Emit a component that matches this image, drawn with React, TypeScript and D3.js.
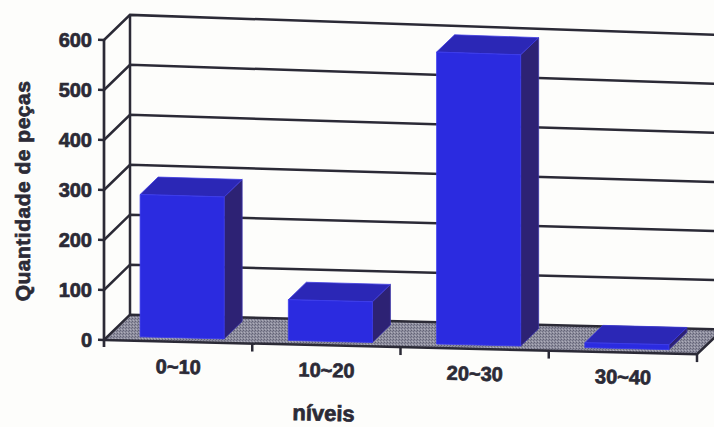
import React from "react";
import * as d3 from "d3";

// Quantity of pieces per level range
const categories = ["0~10", "10~20", "20~30", "30~40"];
const quantities = [285, 82, 590, 10];
const yTicks = [0, 100, 200, 300, 400, 500, 600];
const yTitle = "Quantidade de peças";
const xTitle = "níveis";

const W = 714;
const H = 427;
const X0 = 104; // front-left corner of the plot box
const PW = 593; // width of the floor
const DX = 26; // depth offset of the back wall
const DY = -26;
const BAR_FRONT = 4; // bar depth inside the box
const BAR_BACK = 22;

const INK = "#2b2a36";
const FONT = "'Liberation Sans', Arial, sans-serif";

// slight keystone tilt of the whole page
function project(p: [number, number]): [number, number] {
  const [x, y] = p;
  const k = 0.024 + (0.01 * (340 - y)) / 326;
  return [x, y + (x - X0) * k];
}
function tiltAt(y: number) {
  return (Math.atan(0.024 + (0.01 * (340 - y)) / 326) * 180) / Math.PI;
}

const lineGen = d3.line<[number, number]>();
function poly(pts: [number, number][]) {
  return lineGen(pts.map(project)) + "Z";
}
function seg(pts: [number, number][]) {
  return lineGen(pts.map(project)) as string;
}

const heavy = { stroke: INK, strokeWidth: 0.7, paintOrder: "stroke" as const };

export default function App() {
  const y = d3.scaleLinear().domain([0, 600]).range([340, 40]);
  const x = d3.scaleBand<string>().domain(categories).range([X0, X0 + PW]).padding(0);
  const bw = x.bandwidth();
  const barW = bw * 0.567;
  const y0 = y(0);

  const floor: [number, number][] = [
    [X0, y0],
    [X0 + PW, y0],
    [X0 + PW + DX, y0 + DY],
    [X0 + DX, y0 + DY],
  ];

  const boundaries = d3.range(categories.length + 1).map((i) => X0 + i * bw);

  return (
    <svg
      width={W}
      height={H}
      viewBox={`0 0 ${W} ${H}`}
      style={{ position: "absolute", left: 0, top: 0, background: "#fdfdfb" }}
      fontFamily={FONT}
      fontWeight="bold"
    >
      <defs>
        <pattern id="grain" width="3" height="3" patternUnits="userSpaceOnUse">
          <rect width="3" height="3" fill="#8e8e9e" />
          <rect x="0" y="0" width="1" height="1" fill="#626275" />
          <rect x="2" y="1" width="1" height="1" fill="#6e6e82" />
          <rect x="1" y="2" width="1" height="1" fill="#aeaebb" />
        </pattern>
      </defs>

      {/* floor */}
      <path d={poly(floor)} fill="url(#grain)" />

      {/* back wall grid lines and left wall diagonals */}
      {yTicks.map((v) => (
        <path
          key={"g" + v}
          d={seg([
            [X0, y(v)],
            [X0 + DX, y(v) + DY],
            [X0 + DX + PW + 40, y(v) + DY],
          ])}
          fill="none"
          stroke={INK}
          strokeWidth={2.5}
        />
      ))}
      {/* back wall vertical */}
      <path
        d={seg([
          [X0 + DX, y(0) + DY],
          [X0 + DX, y(600) + DY],
        ])}
        stroke={INK}
        strokeWidth={2.5}
      />
      {/* floor front and right edges */}
      <path
        d={seg([
          [X0, y0],
          [X0 + PW, y0],
          [X0 + PW + DX, y0 + DY],
        ])}
        fill="none"
        stroke={INK}
        strokeWidth={2.5}
      />

      {/* bars */}
      {categories.map((c, i) => {
        const v = quantities[i];
        const xl = (x(c) as number) + (bw - barW) / 2;
        const xr = xl + barW;
        const yt = y(v);
        const f = BAR_FRONT;
        const b = BAR_BACK;
        const front: [number, number][] = [
          [xl + f, yt - f],
          [xr + f, yt - f],
          [xr + f, y0 - f],
          [xl + f, y0 - f],
        ];
        const top: [number, number][] = [
          [xl + f, yt - f],
          [xr + f, yt - f],
          [xr + b, yt - b],
          [xl + b, yt - b],
        ];
        const side: [number, number][] = [
          [xr + f, yt - f],
          [xr + b, yt - b],
          [xr + b, y0 - b],
          [xr + f, y0 - f],
        ];
        return (
          <g key={c}>
            <path d={poly(side)} fill="#2d2274" stroke="#3a33a8" strokeWidth={0.8} />
            <path d={poly(top)} fill="#2b27b6" stroke="#3d3ae0" strokeWidth={0.8} />
            <path d={poly(front)} fill="#2b2be0" stroke="#3c3cee" strokeWidth={0.8} />
          </g>
        );
      })}

      {/* front value axis */}
      <path
        d={seg([
          [X0, y(600)],
          [X0, y0 + 7],
        ])}
        stroke={INK}
        strokeWidth={2.7}
      />
      {yTicks.map((v) => (
        <g key={"t" + v}>
          <path
            d={seg([
              [X0 - 6, y(v)],
              [X0, y(v)],
            ])}
            stroke={INK}
            strokeWidth={2.5}
          />
          <text
            x={project([X0 - 12, y(v)])[0]}
            y={project([X0 - 12, y(v)])[1]}
            dy="0.36em"
            textAnchor="end"
            fontSize={20}
            fill={INK}
            {...heavy}
          >
            {v}
          </text>
        </g>
      ))}

      {/* category ticks */}
      {boundaries.slice(1).map((bx, i) => (
        <path
          key={"x" + i}
          d={seg([
            [bx, y0],
            [bx, y0 + 8],
          ])}
          stroke={INK}
          strokeWidth={2.5}
        />
      ))}

      {/* category labels */}
      {categories.map((c) => {
        const cx = (x(c) as number) + bw / 2;
        const [px, py] = project([cx, 372]);
        return (
          <text
            key={"l" + c}
            x={px}
            y={py}
            textAnchor="middle"
            fontSize={20}
            fill={INK}
            transform={`rotate(${tiltAt(372)} ${px} ${py})`}
            {...heavy}
          >
            {c}
          </text>
        );
      })}

      {/* axis titles */}
      {(() => {
        const [px, py] = project([X0 + PW * 0.37, 416]);
        return (
          <text
            x={px}
            y={py}
            textAnchor="middle"
            fontSize={22}
            fill={INK}
            transform={`rotate(${tiltAt(416)} ${px} ${py})`}
            {...heavy}
          >
            {xTitle}
          </text>
        );
      })()}
      <text
        transform="translate(30,191) rotate(-90)"
        textAnchor="middle"
        fontSize={21}
        letterSpacing={0.5}
        fill={INK}
        {...heavy}
      >
        {yTitle}
      </text>
    </svg>
  );
}
